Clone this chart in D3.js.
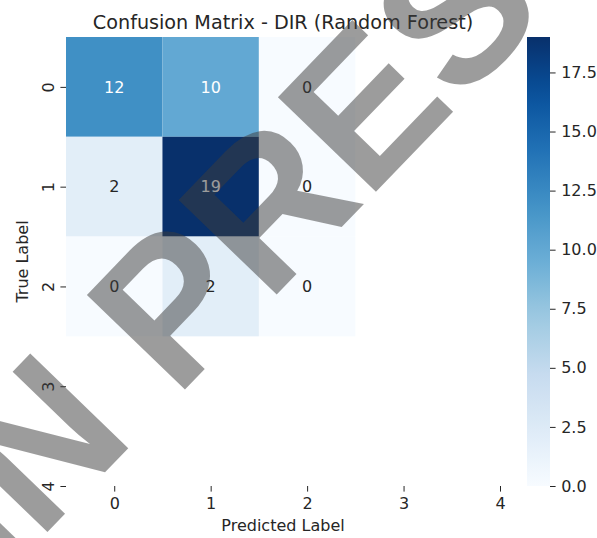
<!DOCTYPE html>
<html>
<head>
<meta charset="utf-8">
<script src="https://cdn.jsdelivr.net/npm/d3@7"></script>
<style>
  html, body { margin: 0; padding: 0; background: #fff; }
  svg { display: block; }
  .chart-text { font-family: "DejaVu Sans", sans-serif; }
</style>
</head>
<body>
<svg id="chart" width="597" height="538"></svg>
<script>
// Confusion matrix data (rows = true label, columns = predicted label)
const predictedLabels = ["0", "1", "2"];
const trueLabels = ["0", "1", "2"];
const row0 = [12, 10, 0];
const row1 = [2, 19, 0];
const row2 = [0, 2, 0];
const matrix = [row0, row1, row2];
const axisTicks = [0, 1, 2, 3, 4];
const colorbarTicks = [0, 2.5, 5, 7.5, 10, 12.5, 15, 17.5];
const chartTitle = "Confusion Matrix - DIR (Random Forest)";
const watermark = "IN PRESS";

// matplotlib "Blues" anchor colours
const blues = ["#f7fbff", "#deebf7", "#c6dbef", "#9ecae1", "#6baed6",
               "#4292c6", "#2171b5", "#08519c", "#08306b"];

const svg = d3.select("#chart");
const plot = { left: 66, right: 500, top: 37, bottom: 486 };
const ink = "#262626";

const vmax = d3.max(matrix.flat());
const color = d3.scaleLinear()
  .domain(blues.map((_, i) => i / (blues.length - 1) * vmax))
  .range(blues)
  .interpolate(d3.interpolateRgb)
  .clamp(true);

const x = d3.scaleLinear().domain([-0.5, 4]).range([plot.left, plot.right]);
const y = d3.scaleLinear().domain([-0.5, 4]).range([plot.top, plot.bottom]);

// heatmap cells
const cells = [];
matrix.forEach((row, i) => row.forEach((v, j) => cells.push({ i, j, v })));

svg.append("g").selectAll("rect").data(cells).join("rect")
  .attr("x", d => x(d.j - 0.5))
  .attr("y", d => y(d.i - 0.5))
  .attr("width", d => x(d.j + 0.5) - x(d.j - 0.5))
  .attr("height", d => y(d.i + 0.5) - y(d.i - 0.5))
  .attr("fill", d => color(d.v));

// annotation colour follows cell luminance
function luminance(c) {
  const rgb = d3.rgb(c);
  const f = u => { u /= 255; return u <= 0.03928 ? u / 12.92 : Math.pow((u + 0.055) / 1.055, 2.4); };
  return 0.2126 * f(rgb.r) + 0.7152 * f(rgb.g) + 0.0722 * f(rgb.b);
}

svg.append("g").selectAll("text").data(cells).join("text")
  .attr("class", "chart-text")
  .attr("x", d => x(d.j))
  .attr("y", d => y(d.i))
  .attr("dy", "0.36em")
  .attr("text-anchor", "middle")
  .attr("font-size", 16)
  .attr("fill", d => luminance(color(d.v)) > 0.408 ? ink : "#ffffff")
  .text(d => d.v);

// axes
const tickLen = 5.6, tickPad = 5.6;
const xAxis = svg.append("g")
  .attr("transform", `translate(0,${plot.bottom})`)
  .call(d3.axisBottom(x).tickValues(axisTicks).tickFormat(d => String(d))
    .tickSize(tickLen).tickPadding(tickPad));
xAxis.select(".domain").remove();
xAxis.selectAll("line").attr("stroke", ink).attr("stroke-width", 1);
xAxis.selectAll("text").attr("class", "chart-text").attr("font-size", 16).attr("fill", ink);

const yAxis = svg.append("g")
  .attr("transform", `translate(${plot.left},0)`)
  .call(d3.axisLeft(y).tickValues(axisTicks).tickFormat(d => String(d))
    .tickSize(tickLen).tickPadding(tickPad));
yAxis.select(".domain").remove();
yAxis.selectAll("line").attr("stroke", ink).attr("stroke-width", 1);
yAxis.selectAll("text")
  .attr("class", "chart-text")
  .attr("font-size", 16).attr("fill", ink)
  .attr("x", null).attr("dy", null)
  .attr("text-anchor", "middle")
  .attr("transform", `translate(${-tickLen - tickPad - 1},0) rotate(-90)`)
  .attr("y", 0);

// axis titles
svg.append("text")
  .attr("class", "chart-text")
  .attr("x", (plot.left + plot.right) / 2)
  .attr("y", 531)
  .attr("text-anchor", "middle")
  .attr("font-size", 16).attr("fill", ink)
  .text("Predicted Label");

svg.append("text")
  .attr("class", "chart-text")
  .attr("transform", `translate(28,${(plot.top + plot.bottom) / 2}) rotate(-90)`)
  .attr("text-anchor", "middle")
  .attr("font-size", 16).attr("fill", ink)
  .text("True Label");

// title
svg.append("text")
  .attr("class", "chart-text")
  .attr("x", (plot.left + plot.right) / 2)
  .attr("y", 29)
  .attr("text-anchor", "middle")
  .attr("font-size", 19.2).attr("fill", ink)
  .text(chartTitle);

// colorbar
const cb = { x: 527, w: 23 };
const cbScale = d3.scaleLinear().domain([0, vmax]).range([plot.bottom, plot.top]);
const defs = svg.append("defs");
const grad = defs.append("linearGradient").attr("id", "cbGrad")
  .attr("x1", 0).attr("y1", 1).attr("x2", 0).attr("y2", 0);
d3.range(0, 1.0001, 0.05).forEach(t => {
  grad.append("stop").attr("offset", t).attr("stop-color", color(t * vmax));
});
svg.append("rect")
  .attr("x", cb.x).attr("y", plot.top)
  .attr("width", cb.w).attr("height", plot.bottom - plot.top)
  .attr("fill", "url(#cbGrad)");

const cbAxis = svg.append("g")
  .attr("transform", `translate(${cb.x + cb.w},0)`)
  .call(d3.axisRight(cbScale).tickValues(colorbarTicks).tickFormat(d3.format(".1f"))
    .tickSize(tickLen).tickPadding(tickPad));
cbAxis.select(".domain").remove();
cbAxis.selectAll("line").attr("stroke", ink);
cbAxis.selectAll("text").attr("class", "chart-text").attr("font-size", 16).attr("fill", ink);

// diagonal watermark
svg.append("text")
  .attr("transform", "translate(0,581) rotate(-46)")
  .attr("text-anchor", "start")
  .style("font-family", "'Liberation Sans', Arial, sans-serif")
  .style("font-weight", "bold")
  .style("font-size", "198px")
  .attr("fill", "#3c3c3c")
  .attr("fill-opacity", 0.51)
  .text(watermark);
</script>
</body>
</html>
